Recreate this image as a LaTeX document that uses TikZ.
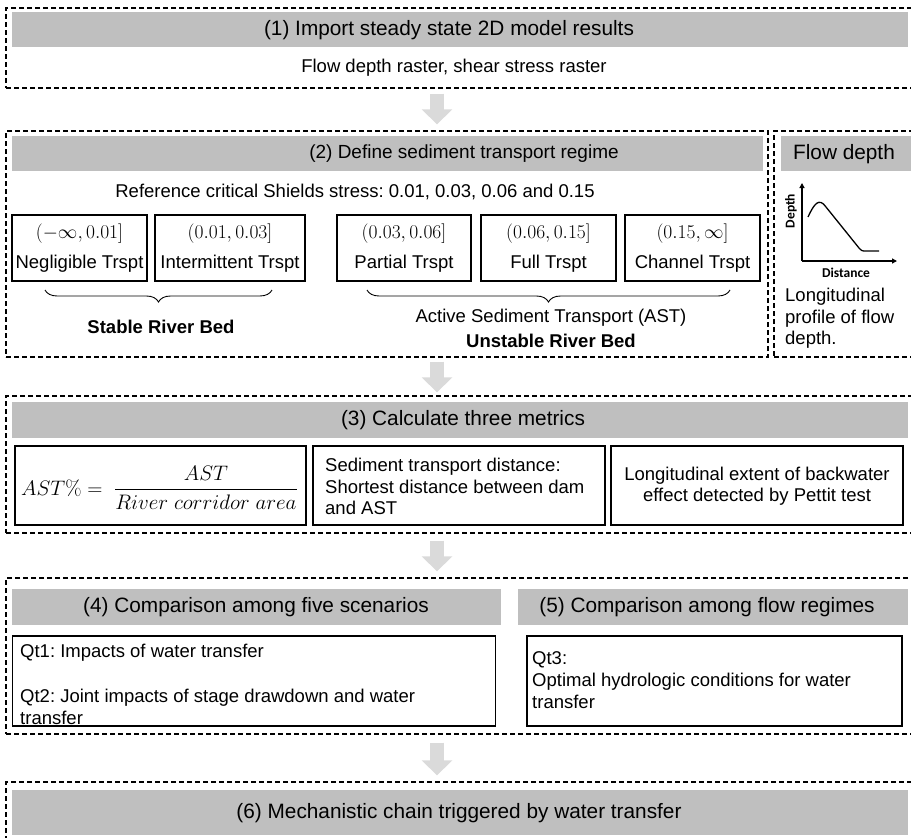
\RequirePackage{fix-cm}
\documentclass[tikz,border=0pt]{standalone}
\usepackage{amsmath}
\usepackage[no-math]{fontspec}
\setmainfont{Liberation Sans}
\newfontfamily\calfont{Carlito}
\usetikzlibrary{arrows.meta,decorations.pathreplacing,calc}
\definecolor{hdrgray}{RGB}{191,191,191}
\definecolor{arrgray}{RGB}{218,218,218}
\frenchspacing
\newcommand{\ivl}[1]{{\fontsize{19.5}{30}\selectfont$#1$}}
\begin{document}
\begin{tikzpicture}[x=1pt,y=-1pt,
  grp/.style={draw, line width=1.4pt, dash pattern=on 5pt off 3pt, inner sep=0pt},
  hdr/.style={fill=hdrgray, inner sep=0pt, minimum height=35pt},
  hfont/.style={font=\fontsize{20.8}{25}\selectfont, inner sep=0pt},
  bfont/.style={font=\fontsize{18.5}{21.5}\selectfont, inner sep=0pt},
  cbox/.style={draw, line width=1.8pt, inner sep=0pt},
  ivbox/.style={cbox, minimum height=66pt, align=center, font=\fontsize{18.5}{30}\selectfont},
  bigarrow/.style={line width=14pt, arrgray, -{Triangle[width=30pt,length=15pt]}},
  bracestyle/.style={decorate, decoration={brace,mirror,amplitude=12pt}, line width=0.9pt},
  smallax/.style={line width=1.2pt, -{Triangle[width=5pt,length=5pt]}}
]
\useasboundingbox (0,0) rectangle (911,838);
\clip (0,0) rectangle (911,838);

% ---------- group 1
\node[grp, minimum width=909pt, minimum height=80pt] (g1) at (460.5,48) {};
\node[hdr, minimum width=896pt] (h1) at (460,29.5) {};
\node[hfont] (h1t) at (449,30) {(1) Import steady state 2D model results};
\node[bfont] (t1) at (454,68) {Flow depth raster, shear stress raster};

% ---------- group 2
\node[grp, minimum width=762pt, minimum height=226pt] (g2) at (387,244) {};
\node[hdr, minimum width=751pt] (h2) at (387.5,153.5) {};
\node[hfont, font=\fontsize{19}{23}\selectfont] (h2t) at (464,154) {(2) Define sediment transport regime};
\node[bfont] (ref) at (355,192) {Reference critical Shields stress: 0.01, 0.03, 0.06 and 0.15};

\node[ivbox, minimum width=135pt] (b1) at (79.5,248) {\ivl{(-\infty, 0.01]}\\Negligible Trspt};
\node[ivbox, minimum width=150pt] (b2) at (230,248) {\ivl{(0.01, 0.03]}\\Intermittent Trspt};
\node[ivbox, minimum width=134pt] (b3) at (404,248) {\ivl{(0.03, 0.06]}\\Partial Trspt};
\node[ivbox, minimum width=135pt] (b4) at (548.5,248) {\ivl{(0.06, 0.15]}\\Full Trspt};
\node[ivbox, minimum width=135pt] (b5) at (692.5,248) {\ivl{(0.15, \infty]}\\Channel Trspt};

\coordinate (sbL) at (45,290);
\coordinate (sbR) at (272,290);
\coordinate (abL) at (367,290);
\coordinate (abR) at (730,290);
\draw[bracestyle] (sbL) -- (sbR);
\draw[bracestyle] (abL) -- (abR);
\node[bfont, font=\fontsize{18.5}{21.5}\selectfont\bfseries] (stable) at (161,327) {Stable River Bed};
\node[bfont] (ast) at (551,318) {Active Sediment Transport (AST)};
\node[bfont, font=\fontsize{18.5}{21.5}\selectfont\bfseries] (unstable) at (551,341) {Unstable River Bed};

% ---------- flow depth panel
\node[grp, minimum width=141pt, minimum height=226pt] (gF) at (844.5,244) {};
\node[hdr, minimum width=134pt] (hF) at (848,153.5) {};
\node[hfont] (hFt) at (844,154) {Flow depth};
\coordinate (org) at (802,261);
\coordinate (ytop) at (802,183);
\coordinate (xend) at (897,261);
\draw[smallax] (org) -- (ytop);
\draw[smallax] (org) -- (xend);
\draw[line width=1.3pt, line join=round] (808,217) .. controls (814,204) and (819,197) .. (826,207) -- (859,248) .. controls (862,251) .. (866,251) -- (879,251);
\node[font=\calfont\bfseries\fontsize{13.5}{15}\selectfont, inner sep=0pt, rotate=90] (dlab) at (791,211) {Depth};
\node[font=\calfont\bfseries\fontsize{13.5}{15}\selectfont, inner sep=0pt] (xlab) at (846,273) {Distance};
\node[bfont, align=left, anchor=west] (fdtext) at (785,318.5) {Longitudinal\\profile of flow\\depth.};

% ---------- group 3
\node[grp, minimum width=909pt, minimum height=137pt] (g3) at (460.5,464.5) {};
\node[hdr, minimum width=896pt, minimum height=36pt] (h3) at (460,420) {};
\node[hfont] (h3t) at (463,420) {(3) Calculate three metrics};
\node[cbox, minimum width=291pt, minimum height=79pt] (m1) at (160.5,485.5) {};
\node[cbox, minimum width=292pt, minimum height=79pt] (m2) at (459,485.5) {};
\node[cbox, minimum width=292pt, minimum height=79pt] (m3) at (757,485.5) {};
\node[inner sep=0pt, font=\fontsize{21}{25}\selectfont] (f1) at (159.5,488) {$AST\% =\ \dfrac{AST}{River\ corridor\ area}$};
\node[bfont, align=left, anchor=west] (m2t) at (325,486.5) {Sediment transport distance:\\Shortest distance between dam\\and AST};
\node[bfont, align=center] (m3t) at (757,486) {Longitudinal extent of backwater\\effect detected by Pettit test};

% ---------- group 4/5
\node[grp, minimum width=909pt, minimum height=156pt] (g4) at (460.5,656) {};
\node[hdr, minimum width=489pt, minimum height=36pt] (h4) at (256.5,607) {};
\node[hdr, minimum width=390pt, minimum height=36pt] (h5) at (713,607) {};
\node[hfont] (h4t) at (256,607) {(4) Comparison among five scenarios};
\node[hfont] (h5t) at (707,607) {(5) Comparison among flow regimes};
\node[cbox, minimum width=483pt, minimum height=90pt] (q1) at (254,681) {};
\node[cbox, minimum width=375pt, minimum height=90pt] (q2) at (714.5,681) {};
\node[bfont, font=\fontsize{18.5}{22.5}\selectfont, align=left, anchor=west] (q1t) at (20,684.5) {Qt1: Impacts of water transfer\\[22.5pt]Qt2: Joint impacts of stage drawdown and water\\transfer};
\node[bfont, font=\fontsize{18.5}{22}\selectfont, align=left, anchor=west] (q2t) at (532,680) {Qt3:\\Optimal hydrologic conditions for water\\transfer};

% ---------- group 6
\node[grp, minimum width=909pt, minimum height=88pt] (g6) at (460.5,826) {};
\node[hdr, minimum width=896pt, minimum height=45pt] (h6) at (460,812.5) {};
\node[hfont] (h6t) at (459,813) {(6) Mechanistic chain triggered by water transfer};

% ---------- arrows
\coordinate (ax) at (437,0);
\draw[bigarrow] ($(g1.south -| ax)+(0,5)$) -- ($(g2.north -| ax)+(0,-6)$);
\draw[bigarrow] ($(g2.south -| ax)+(0,4)$) -- ($(g3.north -| ax)+(0,-3)$);
\draw[bigarrow] ($(g3.south -| ax)+(0,7)$) -- ($(g4.north -| ax)+(0,-6)$);
\draw[bigarrow] ($(g4.south -| ax)+(0,8)$) -- ($(g6.north -| ax)+(0,-6)$);
\end{tikzpicture}
\end{document}
